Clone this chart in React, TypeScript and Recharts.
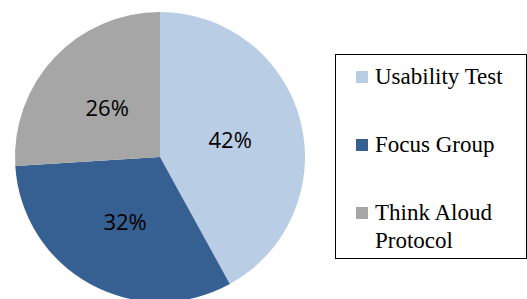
import { PieChart, Pie, Cell, Legend } from 'recharts'

const categories = ['Usability Test', 'Focus Group', 'Think Aloud Protocol']
const shares = [42, 32, 26]
const colors = ['#B9CDE5', '#376092', '#A6A6A6']

const data = categories.map((name, i) => ({ name, value: shares[i] }))

const RAD = Math.PI / 180

function renderLabel(props: any) {
  const { cx, cy, midAngle, outerRadius, value } = props
  const r = outerRadius * 0.5
  const x = cx + r * Math.cos(-midAngle * RAD)
  const y = cy + r * Math.sin(-midAngle * RAD)
  return (
    <text x={x} y={y} textAnchor="middle" dominantBaseline="central"
      fontFamily="'Open Sans', sans-serif" fontSize={22} fill="#000">
      {value}%
    </text>
  )
}

function LegendBox() {
  return (
    <div style={{
      position: 'absolute', left: 335, top: 54, width: 192, height: 205,
      border: '1.5px solid #000', boxSizing: 'border-box', background: '#fff',
      fontFamily: '"Liberation Serif", Tinos, "Times New Roman", "DejaVu Serif", Georgia, serif', fontSize: 23, color: '#000',
    }}>
      {categories.map((c, i) => (
        <div key={c} style={{ position: 'absolute', left: 20, top: 8 + i * 68, display: 'flex', alignItems: 'flex-start' }}>
          <span style={{ width: 12, height: 12, background: colors[i], marginTop: 8, marginRight: 7, flexShrink: 0 }} />
          <span style={{ width: 140, lineHeight: '28px' }}>{c}</span>
        </div>
      ))}
    </div>
  )
}

export default function App() {
  return (
    <div style={{ position: 'absolute', left: 0, top: 0, width: 527, height: 299, overflow: 'hidden', background: '#fff' }}>
      <PieChart width={527} height={299} margin={{ top: 0, right: 0, bottom: 0, left: 0 }}>
        <Pie
          data={data}
          dataKey="value"
          nameKey="name"
          cx={160}
          cy={157}
          outerRadius={145}
          startAngle={90}
          endAngle={-270}
          stroke="none"
          label={renderLabel}
          labelLine={false}
          isAnimationActive={false}
        >
          {data.map((d, i) => <Cell key={d.name} fill={colors[i]} />)}
        </Pie>
        <Legend content={() => null} />
      </PieChart>
      <LegendBox />
    </div>
  )
}
